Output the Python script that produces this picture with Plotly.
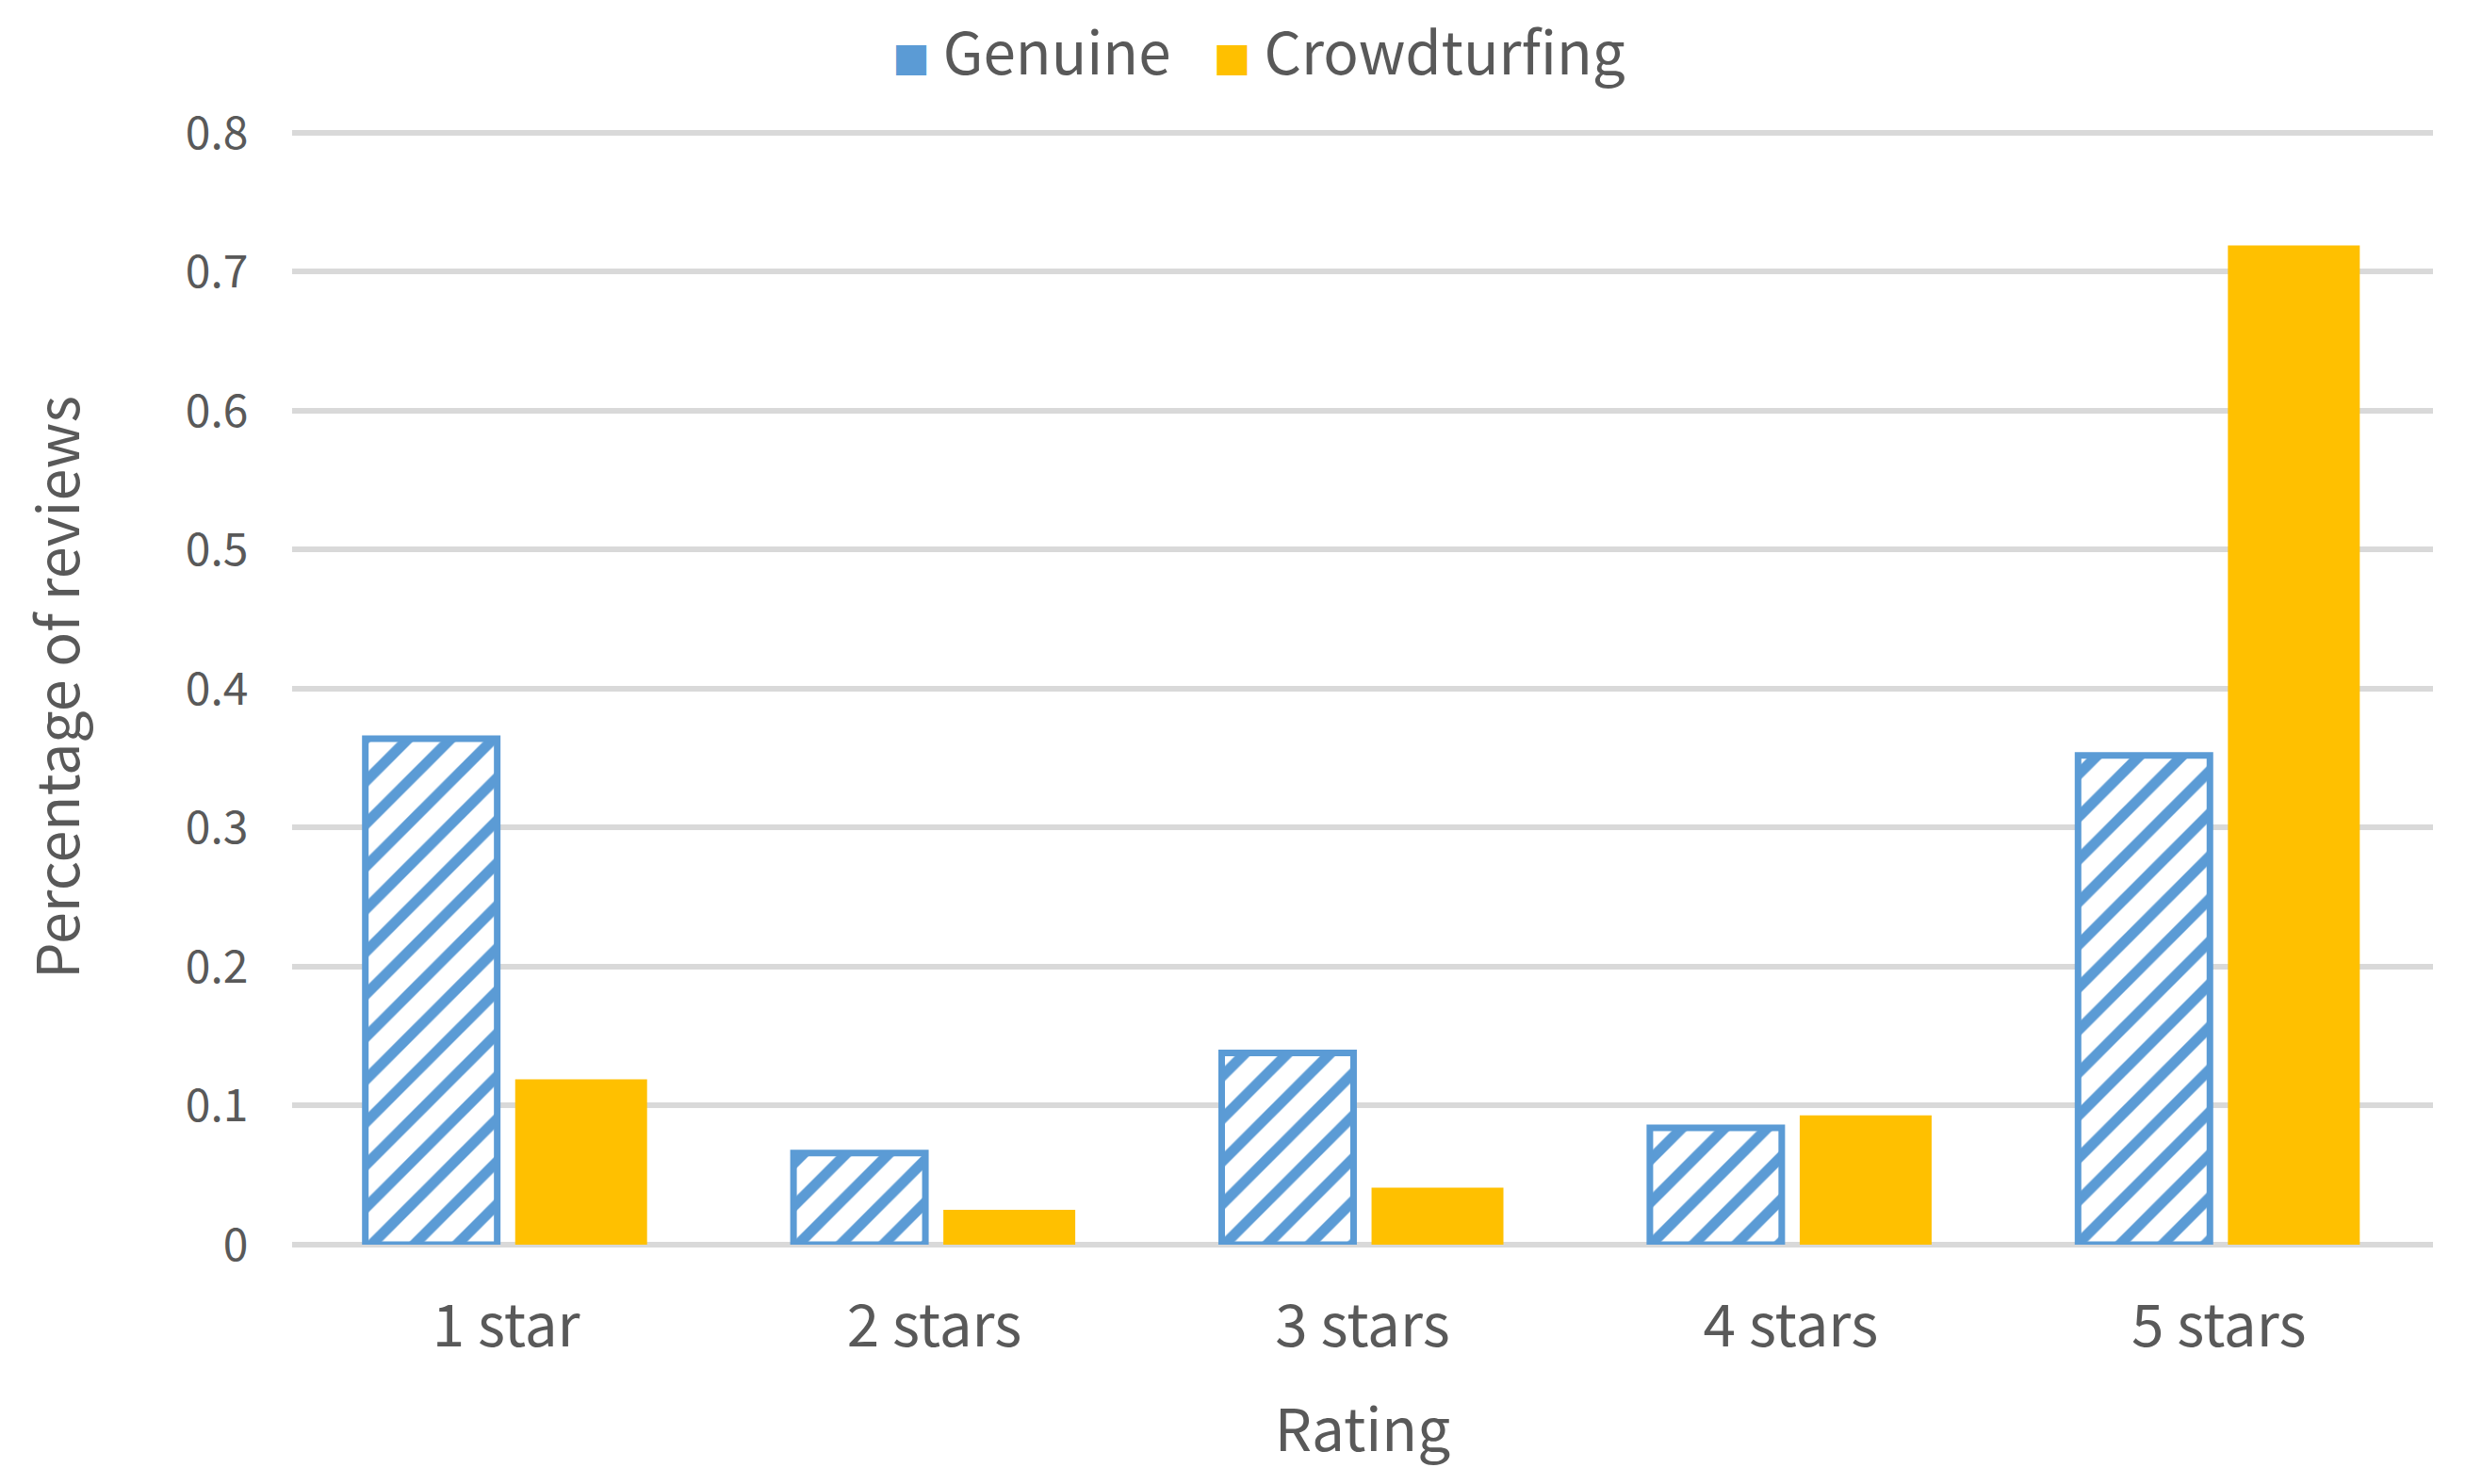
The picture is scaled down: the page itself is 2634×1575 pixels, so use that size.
import plotly.graph_objects as go

# Anteil der Bewertungen je Sternezahl
ratings = ['1 star', '2 stars', '3 stars', '4 stars', '5 stars']
genuine = [0.364, 0.066, 0.138, 0.084, 0.352]
crowdturfing = [0.119, 0.025, 0.041, 0.093, 0.719]
y_ticks = [0, 0.1, 0.2, 0.3, 0.4, 0.5, 0.6, 0.7, 0.8]
y_ticktext = ['0', '0.1', '0.2', '0.3', '0.4', '0.5', '0.6', '0.7', '0.8']

blue = '#5B9BD5'
gold = '#FFC000'
grid = '#D9D9D9'
text_col = '#595959'
font_family = 'Noto Sans CJK SC, Noto Sans, sans-serif'

fig = go.Figure()

fig.add_trace(go.Bar(
    x=ratings,
    y=genuine,
    name='Genuine',
    showlegend=False,
    marker=dict(
        color='white',
        line=dict(color=blue, width=7),
        pattern=dict(shape='/', fgcolor=blue, bgcolor='white', fgopacity=1,
                     size=32, solidity=0.35),
    ),
))

fig.add_trace(go.Bar(
    x=ratings,
    y=crowdturfing,
    name='Crowdturfing',
    showlegend=False,
    marker=dict(color=gold, line=dict(width=0)),
))


# Legende: grosse Quadrate als Text, eigentliches Symbol unsichtbar
def legend_name(color, label):
    return f'<span style="color:{color};font-size:40px">■</span> {label}'


hidden = dict(symbol='square', size=1, color='rgba(0,0,0,0)', opacity=0,
              line=dict(width=0, color='rgba(0,0,0,0)'))
fig.add_trace(go.Scatter(
    x=[None], y=[None], mode='markers', name=legend_name(blue, 'Genuine'),
    marker=hidden,
))
fig.add_trace(go.Scatter(
    x=[None], y=[None], mode='markers', name=legend_name(gold, 'Crowdturfing'),
    marker=hidden,
))

fig.update_layout(
    width=2634,
    height=1575,
    plot_bgcolor='white',
    paper_bgcolor='white',
    barmode='group',
    bargap=0.3,
    bargroupgap=0.12,
    margin=dict(l=302, r=60, t=130, b=262, autoexpand=False),
    font=dict(family=font_family, color=text_col, size=60),
    showlegend=True,
    legend=dict(
        orientation='h',
        xref='container', x=0.4975, xanchor='center',
        yref='container', y=1.0, yanchor='top',
        font=dict(size=62, color=text_col),
        itemwidth=30,
        traceorder='normal',
    ),
    xaxis=dict(
        title=dict(text='Rating', font=dict(size=62), standoff=50),
        tickfont=dict(size=62),
        ticks='outside', ticklen=33, tickcolor='rgba(0,0,0,0)',
        showgrid=False,
        showline=False,
    ),
    yaxis=dict(
        title=dict(text='Percentage of reviews', font=dict(size=61), standoff=92),
        range=[0, 0.802],
        tickvals=y_ticks,
        ticktext=y_ticktext,
        tickfont=dict(size=48),
        ticks='outside', ticklen=36, tickcolor='rgba(0,0,0,0)',
        showgrid=True, gridcolor=grid, gridwidth=6,
        zeroline=True, zerolinecolor=grid, zerolinewidth=6,
        showline=False,
    ),
)

fig.write_html('out.html')
